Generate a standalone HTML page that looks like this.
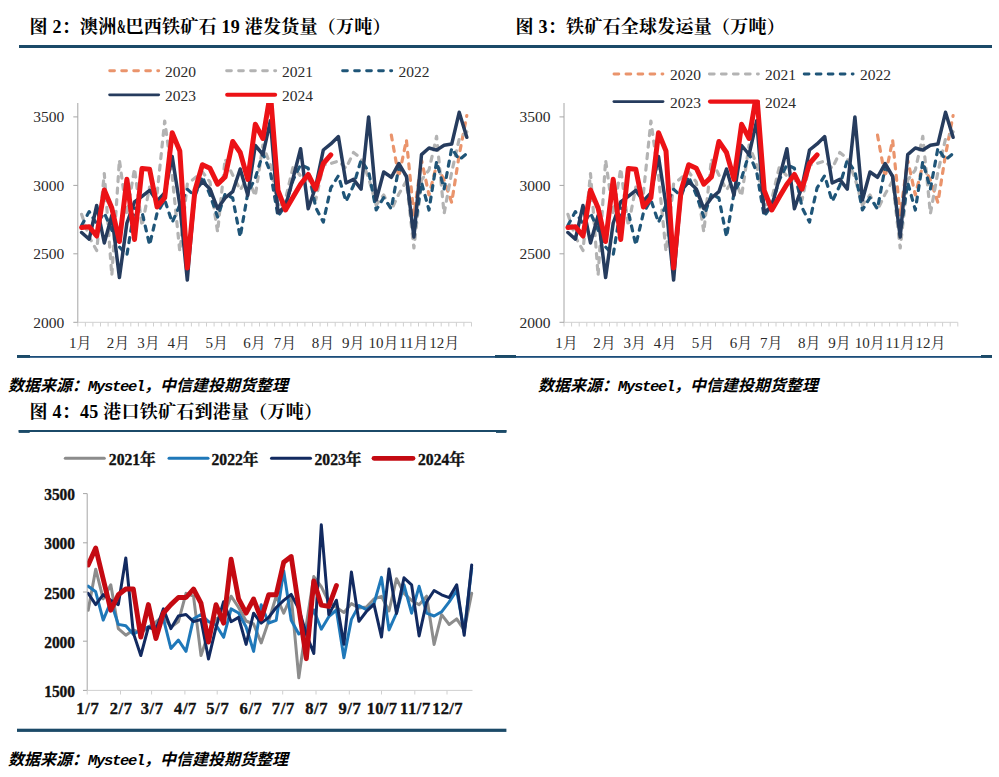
<!DOCTYPE html>
<html lang="zh-CN"><head><meta charset="utf-8"><title>铁矿石发运与到港量</title>
<style>
html,body{margin:0;padding:0;background:#fff;}
body{width:999px;height:777px;position:relative;overflow:hidden;}
svg{position:absolute;left:0;top:0;}
.t{position:absolute;white-space:nowrap;font-family:'Liberation Serif','Noto Serif CJK SC',serif;font-weight:bold;font-size:18px;letter-spacing:0.25px;color:#000;line-height:20px;}
.s{position:absolute;white-space:nowrap;font-family:'Liberation Sans','Noto Sans CJK SC',sans-serif;font-weight:bold;font-style:italic;font-size:16px;color:#000;line-height:20px;}
.s span{font-family:'Liberation Mono',monospace;font-weight:bold;font-style:italic;font-size:15.5px;letter-spacing:-1.3px;}
.amp{display:inline-block;transform:scaleX(.6);transform-origin:0 50%;width:9px;}
</style></head><body>
<div class="t" style="left:29.5px;top:17px">图 2：澳洲<span class="amp">&amp;</span>巴西铁矿石 19 港发货量（万吨）</div>
<div class="t" style="left:515.5px;top:17px">图 3：铁矿石全球发运量（万吨）</div>
<div class="t" style="left:29.5px;top:402px">图 4：45 港口铁矿石到港量（万吨）</div>
<div class="s" style="left:8px;top:376px">数据来源：<span>Mysteel</span>，中信建投期货整理</div>
<div class="s" style="left:538px;top:376px">数据来源：<span>Mysteel</span>，中信建投期货整理</div>
<div class="s" style="left:8px;top:750px">数据来源：<span>Mysteel</span>，中信建投期货整理</div>
<svg width="999" height="777" viewBox="0 0 999 777">
<rect x="19" y="45" width="973" height="3" fill="#1B4A68"/>
<rect x="17" y="356" width="975" height="1.8" fill="#1C4E7A"/>
<rect x="17" y="355" width="13" height="2.8" fill="#1B4A68"/>
<rect x="495" y="355" width="21" height="2.8" fill="#1B4A68"/>
<rect x="981" y="355" width="11" height="2.8" fill="#1B4A68"/>
<rect x="18.7" y="430" width="487.7" height="2" fill="#1B4A68"/>
<rect x="18.7" y="430" width="11" height="2.9" fill="#1B4A68"/>
<rect x="496" y="430" width="10.4" height="2.9" fill="#1B4A68"/>
<rect x="17" y="728.7" width="489.4" height="3.2" fill="#1B4A68"/>
<line x1="77.8" y1="103" x2="77.8" y2="322.3" stroke="#A6A6A6" stroke-width="1"/>
<line x1="77.8" y1="322.3" x2="471.5" y2="322.3" stroke="#D0D0D0" stroke-width="1"/>
<line x1="77.8" y1="322.3" x2="77.8" y2="326.5" stroke="#D0D0D0" stroke-width="1"/>
<line x1="85.4" y1="322.3" x2="85.4" y2="326.5" stroke="#D0D0D0" stroke-width="1"/>
<line x1="92.9" y1="322.3" x2="92.9" y2="326.5" stroke="#D0D0D0" stroke-width="1"/>
<line x1="100.5" y1="322.3" x2="100.5" y2="326.5" stroke="#D0D0D0" stroke-width="1"/>
<line x1="108.1" y1="322.3" x2="108.1" y2="326.5" stroke="#D0D0D0" stroke-width="1"/>
<line x1="115.7" y1="322.3" x2="115.7" y2="326.5" stroke="#D0D0D0" stroke-width="1"/>
<line x1="123.2" y1="322.3" x2="123.2" y2="326.5" stroke="#D0D0D0" stroke-width="1"/>
<line x1="130.8" y1="322.3" x2="130.8" y2="326.5" stroke="#D0D0D0" stroke-width="1"/>
<line x1="138.4" y1="322.3" x2="138.4" y2="326.5" stroke="#D0D0D0" stroke-width="1"/>
<line x1="145.9" y1="322.3" x2="145.9" y2="326.5" stroke="#D0D0D0" stroke-width="1"/>
<line x1="153.5" y1="322.3" x2="153.5" y2="326.5" stroke="#D0D0D0" stroke-width="1"/>
<line x1="161.1" y1="322.3" x2="161.1" y2="326.5" stroke="#D0D0D0" stroke-width="1"/>
<line x1="168.7" y1="322.3" x2="168.7" y2="326.5" stroke="#D0D0D0" stroke-width="1"/>
<line x1="176.2" y1="322.3" x2="176.2" y2="326.5" stroke="#D0D0D0" stroke-width="1"/>
<line x1="183.8" y1="322.3" x2="183.8" y2="326.5" stroke="#D0D0D0" stroke-width="1"/>
<line x1="191.4" y1="322.3" x2="191.4" y2="326.5" stroke="#D0D0D0" stroke-width="1"/>
<line x1="198.9" y1="322.3" x2="198.9" y2="326.5" stroke="#D0D0D0" stroke-width="1"/>
<line x1="206.5" y1="322.3" x2="206.5" y2="326.5" stroke="#D0D0D0" stroke-width="1"/>
<line x1="214.1" y1="322.3" x2="214.1" y2="326.5" stroke="#D0D0D0" stroke-width="1"/>
<line x1="221.7" y1="322.3" x2="221.7" y2="326.5" stroke="#D0D0D0" stroke-width="1"/>
<line x1="229.2" y1="322.3" x2="229.2" y2="326.5" stroke="#D0D0D0" stroke-width="1"/>
<line x1="236.8" y1="322.3" x2="236.8" y2="326.5" stroke="#D0D0D0" stroke-width="1"/>
<line x1="244.4" y1="322.3" x2="244.4" y2="326.5" stroke="#D0D0D0" stroke-width="1"/>
<line x1="251.9" y1="322.3" x2="251.9" y2="326.5" stroke="#D0D0D0" stroke-width="1"/>
<line x1="259.5" y1="322.3" x2="259.5" y2="326.5" stroke="#D0D0D0" stroke-width="1"/>
<line x1="267.1" y1="322.3" x2="267.1" y2="326.5" stroke="#D0D0D0" stroke-width="1"/>
<line x1="274.6" y1="322.3" x2="274.6" y2="326.5" stroke="#D0D0D0" stroke-width="1"/>
<line x1="282.2" y1="322.3" x2="282.2" y2="326.5" stroke="#D0D0D0" stroke-width="1"/>
<line x1="289.8" y1="322.3" x2="289.8" y2="326.5" stroke="#D0D0D0" stroke-width="1"/>
<line x1="297.4" y1="322.3" x2="297.4" y2="326.5" stroke="#D0D0D0" stroke-width="1"/>
<line x1="304.9" y1="322.3" x2="304.9" y2="326.5" stroke="#D0D0D0" stroke-width="1"/>
<line x1="312.5" y1="322.3" x2="312.5" y2="326.5" stroke="#D0D0D0" stroke-width="1"/>
<line x1="320.1" y1="322.3" x2="320.1" y2="326.5" stroke="#D0D0D0" stroke-width="1"/>
<line x1="327.6" y1="322.3" x2="327.6" y2="326.5" stroke="#D0D0D0" stroke-width="1"/>
<line x1="335.2" y1="322.3" x2="335.2" y2="326.5" stroke="#D0D0D0" stroke-width="1"/>
<line x1="342.8" y1="322.3" x2="342.8" y2="326.5" stroke="#D0D0D0" stroke-width="1"/>
<line x1="350.4" y1="322.3" x2="350.4" y2="326.5" stroke="#D0D0D0" stroke-width="1"/>
<line x1="357.9" y1="322.3" x2="357.9" y2="326.5" stroke="#D0D0D0" stroke-width="1"/>
<line x1="365.5" y1="322.3" x2="365.5" y2="326.5" stroke="#D0D0D0" stroke-width="1"/>
<line x1="373.1" y1="322.3" x2="373.1" y2="326.5" stroke="#D0D0D0" stroke-width="1"/>
<line x1="380.6" y1="322.3" x2="380.6" y2="326.5" stroke="#D0D0D0" stroke-width="1"/>
<line x1="388.2" y1="322.3" x2="388.2" y2="326.5" stroke="#D0D0D0" stroke-width="1"/>
<line x1="395.8" y1="322.3" x2="395.8" y2="326.5" stroke="#D0D0D0" stroke-width="1"/>
<line x1="403.4" y1="322.3" x2="403.4" y2="326.5" stroke="#D0D0D0" stroke-width="1"/>
<line x1="410.9" y1="322.3" x2="410.9" y2="326.5" stroke="#D0D0D0" stroke-width="1"/>
<line x1="418.5" y1="322.3" x2="418.5" y2="326.5" stroke="#D0D0D0" stroke-width="1"/>
<line x1="426.1" y1="322.3" x2="426.1" y2="326.5" stroke="#D0D0D0" stroke-width="1"/>
<line x1="433.6" y1="322.3" x2="433.6" y2="326.5" stroke="#D0D0D0" stroke-width="1"/>
<line x1="441.2" y1="322.3" x2="441.2" y2="326.5" stroke="#D0D0D0" stroke-width="1"/>
<line x1="448.8" y1="322.3" x2="448.8" y2="326.5" stroke="#D0D0D0" stroke-width="1"/>
<line x1="456.4" y1="322.3" x2="456.4" y2="326.5" stroke="#D0D0D0" stroke-width="1"/>
<line x1="463.9" y1="322.3" x2="463.9" y2="326.5" stroke="#D0D0D0" stroke-width="1"/>
<line x1="471.5" y1="322.3" x2="471.5" y2="326.5" stroke="#D0D0D0" stroke-width="1"/>
<line x1="73.3" y1="116.9" x2="77.8" y2="116.9" stroke="#A6A6A6" stroke-width="1"/>
<text x="64.2" y="122.4" text-anchor="end" font-family="'Liberation Serif','Noto Serif CJK SC',serif" font-size="15.5" fill="#2b2b2b">3500</text>
<line x1="73.3" y1="185.4" x2="77.8" y2="185.4" stroke="#A6A6A6" stroke-width="1"/>
<text x="64.2" y="190.9" text-anchor="end" font-family="'Liberation Serif','Noto Serif CJK SC',serif" font-size="15.5" fill="#2b2b2b">3000</text>
<line x1="73.3" y1="253.8" x2="77.8" y2="253.8" stroke="#A6A6A6" stroke-width="1"/>
<text x="64.2" y="259.3" text-anchor="end" font-family="'Liberation Serif','Noto Serif CJK SC',serif" font-size="15.5" fill="#2b2b2b">2500</text>
<line x1="73.3" y1="322.3" x2="77.8" y2="322.3" stroke="#A6A6A6" stroke-width="1"/>
<text x="64.2" y="327.8" text-anchor="end" font-family="'Liberation Serif','Noto Serif CJK SC',serif" font-size="15.5" fill="#2b2b2b">2000</text>
<text x="80.2" y="347.5" text-anchor="middle" font-family="'Liberation Serif','Noto Serif CJK SC',serif" font-size="15" fill="#2b2b2b">1月</text>
<text x="118.1" y="347.5" text-anchor="middle" font-family="'Liberation Serif','Noto Serif CJK SC',serif" font-size="15" fill="#2b2b2b">2月</text>
<text x="148.5" y="347.5" text-anchor="middle" font-family="'Liberation Serif','Noto Serif CJK SC',serif" font-size="15" fill="#2b2b2b">3月</text>
<text x="178.8" y="347.5" text-anchor="middle" font-family="'Liberation Serif','Noto Serif CJK SC',serif" font-size="15" fill="#2b2b2b">4月</text>
<text x="216.7" y="347.5" text-anchor="middle" font-family="'Liberation Serif','Noto Serif CJK SC',serif" font-size="15" fill="#2b2b2b">5月</text>
<text x="254.6" y="347.5" text-anchor="middle" font-family="'Liberation Serif','Noto Serif CJK SC',serif" font-size="15" fill="#2b2b2b">6月</text>
<text x="285.0" y="347.5" text-anchor="middle" font-family="'Liberation Serif','Noto Serif CJK SC',serif" font-size="15" fill="#2b2b2b">7月</text>
<text x="322.9" y="347.5" text-anchor="middle" font-family="'Liberation Serif','Noto Serif CJK SC',serif" font-size="15" fill="#2b2b2b">8月</text>
<text x="353.3" y="347.5" text-anchor="middle" font-family="'Liberation Serif','Noto Serif CJK SC',serif" font-size="15" fill="#2b2b2b">9月</text>
<text x="383.6" y="347.5" text-anchor="middle" font-family="'Liberation Serif','Noto Serif CJK SC',serif" font-size="15" fill="#2b2b2b">10月</text>
<text x="413.9" y="347.5" text-anchor="middle" font-family="'Liberation Serif','Noto Serif CJK SC',serif" font-size="15" fill="#2b2b2b">11月</text>
<text x="444.3" y="347.5" text-anchor="middle" font-family="'Liberation Serif','Noto Serif CJK SC',serif" font-size="15" fill="#2b2b2b">12月</text>
<clipPath id="c2"><rect x="67.8" y="103" width="420" height="240"/></clipPath>
<g clip-path="url(#c2)" fill="none" stroke-linejoin="round" stroke-linecap="round">
<polyline points="391.3,135.0 398.8,177.0 406.4,140.0 413.9,215.0 421.5,160.0 429.0,195.0 436.6,165.0 444.1,180.0 451.7,202.5 459.2,155.0 466.8,115.5" stroke="#EA946C" stroke-width="3.2" stroke-dasharray="5 6.6"/>
<polyline points="81.6,214.3 89.2,237.0 96.7,250.5 104.3,173.5 111.8,275.5 119.4,160.0 126.9,215.0 134.5,168.6 142.0,226.0 149.6,187.0 157.1,193.5 164.7,121.0 172.2,176.0 179.8,251.5 187.3,184.0 194.9,178.0 202.4,172.0 210.0,182.0 217.6,232.0 225.1,159.0 232.7,175.0 240.2,190.0 247.8,178.0 255.3,196.0 262.9,145.0 270.4,165.0 278.0,207.0 285.5,199.0 293.1,167.0 300.6,176.0 308.2,178.0 315.7,200.0 323.3,165.0 330.8,163.5 338.4,161.0 346.0,168.3 353.5,152.5 361.1,158.6 368.6,178.0 376.2,205.0 383.7,195.0 391.3,210.0 398.8,194.0 406.4,181.0 413.9,248.0 421.5,180.0 429.0,170.0 436.6,136.3 444.1,213.7 451.7,172.0 459.2,139.0 466.8,131.8" stroke="#B3B3B3" stroke-width="3.2" stroke-dasharray="5 6.6"/>
<polyline points="81.6,225.5 89.2,211.6 96.7,224.0 104.3,213.0 111.8,230.0 119.4,247.0 126.9,255.0 134.5,208.0 142.0,212.0 149.6,245.0 157.1,213.0 164.7,200.0 172.2,222.5 179.8,205.0 187.3,189.3 194.9,196.0 202.4,176.5 210.0,195.0 217.6,217.0 225.1,194.0 232.7,198.0 240.2,237.0 247.8,193.0 255.3,178.0 262.9,153.7 270.4,172.0 278.0,216.5 285.5,205.0 293.1,180.0 300.6,164.7 308.2,168.3 315.7,207.5 323.3,222.1 330.8,187.9 338.4,175.7 346.0,201.4 353.5,185.5 361.1,160.0 368.6,171.5 376.2,209.9 383.7,197.7 391.3,208.7 398.8,167.5 406.4,176.0 413.9,235.0 421.5,182.5 429.0,210.0 436.6,161.5 444.1,189.0 451.7,148.2 459.2,159.7 466.8,153.6" stroke="#1F5578" stroke-width="3.2" stroke-dasharray="5 6.6"/>
<polyline points="81.6,232.5 89.2,239.2 96.7,205.5 104.3,243.0 111.8,215.5 119.4,277.6 126.9,223.0 134.5,202.0 142.0,196.3 149.6,190.3 157.1,201.0 164.7,193.0 172.2,156.5 179.8,205.0 187.3,280.0 194.9,191.0 202.4,181.6 210.0,189.0 217.6,208.6 225.1,198.0 232.7,191.7 240.2,169.0 247.8,195.2 255.3,145.5 262.9,154.5 270.4,120.7 278.0,212.4 285.5,206.5 293.1,178.1 300.6,148.8 308.2,208.7 315.7,186.7 323.3,150.0 330.8,143.9 338.4,136.6 346.0,183.0 353.5,179.4 361.1,189.1 368.6,117.0 376.2,200.1 383.7,172.0 391.3,177.3 398.8,163.5 406.4,176.3 413.9,237.0 421.5,154.6 429.0,148.0 436.6,150.1 444.1,145.3 451.7,144.1 459.2,112.3 466.8,137.3" stroke="#263C5E" stroke-width="3.5"/>
<polyline points="81.6,227.5 89.2,226.7 96.7,236.0 104.3,190.0 111.8,208.0 119.4,241.5 126.9,179.3 134.5,239.4 142.0,168.4 149.6,169.2 157.1,207.0 164.7,197.7 172.2,132.8 179.8,151.0 187.3,268.0 194.9,190.4 202.4,164.7 210.0,168.3 217.6,184.2 225.1,176.9 232.7,141.5 240.2,152.5 247.8,179.4 255.3,124.3 262.9,138.5 270.4,93.0 278.0,190.4 285.5,210.0 293.1,197.0 300.6,184.2 308.2,174.5 315.7,189.1 323.3,163.5 330.8,154.9" stroke="#EC1216" stroke-width="5"/>
</g>
<line x1="109.7" y1="70.8" x2="158.7" y2="70.8" stroke="#EA946C" stroke-width="2.9" stroke-linecap="round" stroke-dasharray="4.8 7.2"/>
<text x="165" y="76.8" font-family="'Liberation Serif','Noto Serif CJK SC',serif" font-size="15.5" fill="#2b2b2b">2020</text>
<line x1="226.6" y1="70.8" x2="275.7" y2="70.8" stroke="#B3B3B3" stroke-width="2.9" stroke-linecap="round" stroke-dasharray="4.8 7.2"/>
<text x="282" y="76.8" font-family="'Liberation Serif','Noto Serif CJK SC',serif" font-size="15.5" fill="#2b2b2b">2021</text>
<line x1="342.6" y1="70.8" x2="391.7" y2="70.8" stroke="#1F5578" stroke-width="2.9" stroke-linecap="round" stroke-dasharray="4.8 7.2"/>
<text x="398.5" y="76.8" font-family="'Liberation Serif','Noto Serif CJK SC',serif" font-size="15.5" fill="#2b2b2b">2022</text>
<line x1="109.6" y1="94.8" x2="158.7" y2="94.8" stroke="#263C5E" stroke-width="2.8" stroke-linecap="round"/>
<text x="165" y="100.8" font-family="'Liberation Serif','Noto Serif CJK SC',serif" font-size="15.5" fill="#2b2b2b">2023</text>
<line x1="227.2" y1="94.8" x2="275.1" y2="94.8" stroke="#EC1216" stroke-width="4.1" stroke-linecap="round"/>
<text x="282" y="100.8" font-family="'Liberation Serif','Noto Serif CJK SC',serif" font-size="15.5" fill="#2b2b2b">2024</text>
<line x1="564.0" y1="103" x2="564.0" y2="322.3" stroke="#A6A6A6" stroke-width="1"/>
<line x1="564.0" y1="322.3" x2="957.8" y2="322.3" stroke="#D0D0D0" stroke-width="1"/>
<line x1="564.0" y1="322.3" x2="564.0" y2="326.5" stroke="#D0D0D0" stroke-width="1"/>
<line x1="571.6" y1="322.3" x2="571.6" y2="326.5" stroke="#D0D0D0" stroke-width="1"/>
<line x1="579.2" y1="322.3" x2="579.2" y2="326.5" stroke="#D0D0D0" stroke-width="1"/>
<line x1="586.8" y1="322.3" x2="586.8" y2="326.5" stroke="#D0D0D0" stroke-width="1"/>
<line x1="594.3" y1="322.3" x2="594.3" y2="326.5" stroke="#D0D0D0" stroke-width="1"/>
<line x1="601.9" y1="322.3" x2="601.9" y2="326.5" stroke="#D0D0D0" stroke-width="1"/>
<line x1="609.5" y1="322.3" x2="609.5" y2="326.5" stroke="#D0D0D0" stroke-width="1"/>
<line x1="617.0" y1="322.3" x2="617.0" y2="326.5" stroke="#D0D0D0" stroke-width="1"/>
<line x1="624.6" y1="322.3" x2="624.6" y2="326.5" stroke="#D0D0D0" stroke-width="1"/>
<line x1="632.2" y1="322.3" x2="632.2" y2="326.5" stroke="#D0D0D0" stroke-width="1"/>
<line x1="639.8" y1="322.3" x2="639.8" y2="326.5" stroke="#D0D0D0" stroke-width="1"/>
<line x1="647.3" y1="322.3" x2="647.3" y2="326.5" stroke="#D0D0D0" stroke-width="1"/>
<line x1="654.9" y1="322.3" x2="654.9" y2="326.5" stroke="#D0D0D0" stroke-width="1"/>
<line x1="662.5" y1="322.3" x2="662.5" y2="326.5" stroke="#D0D0D0" stroke-width="1"/>
<line x1="670.0" y1="322.3" x2="670.0" y2="326.5" stroke="#D0D0D0" stroke-width="1"/>
<line x1="677.6" y1="322.3" x2="677.6" y2="326.5" stroke="#D0D0D0" stroke-width="1"/>
<line x1="685.2" y1="322.3" x2="685.2" y2="326.5" stroke="#D0D0D0" stroke-width="1"/>
<line x1="692.8" y1="322.3" x2="692.8" y2="326.5" stroke="#D0D0D0" stroke-width="1"/>
<line x1="700.3" y1="322.3" x2="700.3" y2="326.5" stroke="#D0D0D0" stroke-width="1"/>
<line x1="707.9" y1="322.3" x2="707.9" y2="326.5" stroke="#D0D0D0" stroke-width="1"/>
<line x1="715.5" y1="322.3" x2="715.5" y2="326.5" stroke="#D0D0D0" stroke-width="1"/>
<line x1="723.0" y1="322.3" x2="723.0" y2="326.5" stroke="#D0D0D0" stroke-width="1"/>
<line x1="730.6" y1="322.3" x2="730.6" y2="326.5" stroke="#D0D0D0" stroke-width="1"/>
<line x1="738.2" y1="322.3" x2="738.2" y2="326.5" stroke="#D0D0D0" stroke-width="1"/>
<line x1="745.8" y1="322.3" x2="745.8" y2="326.5" stroke="#D0D0D0" stroke-width="1"/>
<line x1="753.3" y1="322.3" x2="753.3" y2="326.5" stroke="#D0D0D0" stroke-width="1"/>
<line x1="760.9" y1="322.3" x2="760.9" y2="326.5" stroke="#D0D0D0" stroke-width="1"/>
<line x1="768.5" y1="322.3" x2="768.5" y2="326.5" stroke="#D0D0D0" stroke-width="1"/>
<line x1="776.0" y1="322.3" x2="776.0" y2="326.5" stroke="#D0D0D0" stroke-width="1"/>
<line x1="783.6" y1="322.3" x2="783.6" y2="326.5" stroke="#D0D0D0" stroke-width="1"/>
<line x1="791.2" y1="322.3" x2="791.2" y2="326.5" stroke="#D0D0D0" stroke-width="1"/>
<line x1="798.8" y1="322.3" x2="798.8" y2="326.5" stroke="#D0D0D0" stroke-width="1"/>
<line x1="806.3" y1="322.3" x2="806.3" y2="326.5" stroke="#D0D0D0" stroke-width="1"/>
<line x1="813.9" y1="322.3" x2="813.9" y2="326.5" stroke="#D0D0D0" stroke-width="1"/>
<line x1="821.5" y1="322.3" x2="821.5" y2="326.5" stroke="#D0D0D0" stroke-width="1"/>
<line x1="829.0" y1="322.3" x2="829.0" y2="326.5" stroke="#D0D0D0" stroke-width="1"/>
<line x1="836.6" y1="322.3" x2="836.6" y2="326.5" stroke="#D0D0D0" stroke-width="1"/>
<line x1="844.2" y1="322.3" x2="844.2" y2="326.5" stroke="#D0D0D0" stroke-width="1"/>
<line x1="851.8" y1="322.3" x2="851.8" y2="326.5" stroke="#D0D0D0" stroke-width="1"/>
<line x1="859.3" y1="322.3" x2="859.3" y2="326.5" stroke="#D0D0D0" stroke-width="1"/>
<line x1="866.9" y1="322.3" x2="866.9" y2="326.5" stroke="#D0D0D0" stroke-width="1"/>
<line x1="874.5" y1="322.3" x2="874.5" y2="326.5" stroke="#D0D0D0" stroke-width="1"/>
<line x1="882.0" y1="322.3" x2="882.0" y2="326.5" stroke="#D0D0D0" stroke-width="1"/>
<line x1="889.6" y1="322.3" x2="889.6" y2="326.5" stroke="#D0D0D0" stroke-width="1"/>
<line x1="897.2" y1="322.3" x2="897.2" y2="326.5" stroke="#D0D0D0" stroke-width="1"/>
<line x1="904.8" y1="322.3" x2="904.8" y2="326.5" stroke="#D0D0D0" stroke-width="1"/>
<line x1="912.3" y1="322.3" x2="912.3" y2="326.5" stroke="#D0D0D0" stroke-width="1"/>
<line x1="919.9" y1="322.3" x2="919.9" y2="326.5" stroke="#D0D0D0" stroke-width="1"/>
<line x1="927.5" y1="322.3" x2="927.5" y2="326.5" stroke="#D0D0D0" stroke-width="1"/>
<line x1="935.0" y1="322.3" x2="935.0" y2="326.5" stroke="#D0D0D0" stroke-width="1"/>
<line x1="942.6" y1="322.3" x2="942.6" y2="326.5" stroke="#D0D0D0" stroke-width="1"/>
<line x1="950.2" y1="322.3" x2="950.2" y2="326.5" stroke="#D0D0D0" stroke-width="1"/>
<line x1="957.8" y1="322.3" x2="957.8" y2="326.5" stroke="#D0D0D0" stroke-width="1"/>
<line x1="559.5" y1="116.9" x2="564.0" y2="116.9" stroke="#A6A6A6" stroke-width="1"/>
<text x="550.5" y="122.4" text-anchor="end" font-family="'Liberation Serif','Noto Serif CJK SC',serif" font-size="15.5" fill="#2b2b2b">3500</text>
<line x1="559.5" y1="185.4" x2="564.0" y2="185.4" stroke="#A6A6A6" stroke-width="1"/>
<text x="550.5" y="190.9" text-anchor="end" font-family="'Liberation Serif','Noto Serif CJK SC',serif" font-size="15.5" fill="#2b2b2b">3000</text>
<line x1="559.5" y1="253.8" x2="564.0" y2="253.8" stroke="#A6A6A6" stroke-width="1"/>
<text x="550.5" y="259.3" text-anchor="end" font-family="'Liberation Serif','Noto Serif CJK SC',serif" font-size="15.5" fill="#2b2b2b">2500</text>
<line x1="559.5" y1="322.3" x2="564.0" y2="322.3" stroke="#A6A6A6" stroke-width="1"/>
<text x="550.5" y="327.8" text-anchor="end" font-family="'Liberation Serif','Noto Serif CJK SC',serif" font-size="15.5" fill="#2b2b2b">2000</text>
<text x="566.4" y="347.5" text-anchor="middle" font-family="'Liberation Serif','Noto Serif CJK SC',serif" font-size="15" fill="#2b2b2b">1月</text>
<text x="604.4" y="347.5" text-anchor="middle" font-family="'Liberation Serif','Noto Serif CJK SC',serif" font-size="15" fill="#2b2b2b">2月</text>
<text x="634.7" y="347.5" text-anchor="middle" font-family="'Liberation Serif','Noto Serif CJK SC',serif" font-size="15" fill="#2b2b2b">3月</text>
<text x="665.0" y="347.5" text-anchor="middle" font-family="'Liberation Serif','Noto Serif CJK SC',serif" font-size="15" fill="#2b2b2b">4月</text>
<text x="703.0" y="347.5" text-anchor="middle" font-family="'Liberation Serif','Noto Serif CJK SC',serif" font-size="15" fill="#2b2b2b">5月</text>
<text x="740.9" y="347.5" text-anchor="middle" font-family="'Liberation Serif','Noto Serif CJK SC',serif" font-size="15" fill="#2b2b2b">6月</text>
<text x="771.2" y="347.5" text-anchor="middle" font-family="'Liberation Serif','Noto Serif CJK SC',serif" font-size="15" fill="#2b2b2b">7月</text>
<text x="809.2" y="347.5" text-anchor="middle" font-family="'Liberation Serif','Noto Serif CJK SC',serif" font-size="15" fill="#2b2b2b">8月</text>
<text x="839.5" y="347.5" text-anchor="middle" font-family="'Liberation Serif','Noto Serif CJK SC',serif" font-size="15" fill="#2b2b2b">9月</text>
<text x="869.8" y="347.5" text-anchor="middle" font-family="'Liberation Serif','Noto Serif CJK SC',serif" font-size="15" fill="#2b2b2b">10月</text>
<text x="900.2" y="347.5" text-anchor="middle" font-family="'Liberation Serif','Noto Serif CJK SC',serif" font-size="15" fill="#2b2b2b">11月</text>
<text x="930.5" y="347.5" text-anchor="middle" font-family="'Liberation Serif','Noto Serif CJK SC',serif" font-size="15" fill="#2b2b2b">12月</text>
<clipPath id="c3"><rect x="554.0" y="100.5" width="420" height="240"/></clipPath>
<g clip-path="url(#c3)" fill="none" stroke-linejoin="round" stroke-linecap="round">
<polyline points="877.5,135.0 885.1,177.0 892.6,140.0 900.2,215.0 907.7,160.0 915.3,195.0 922.8,165.0 930.4,180.0 937.9,202.5 945.5,155.0 953.1,115.5" stroke="#EA946C" stroke-width="3.2" stroke-dasharray="5 6.6"/>
<polyline points="567.9,214.3 575.4,237.0 583.0,250.5 590.5,173.5 598.1,275.5 605.6,160.0 613.2,215.0 620.7,168.6 628.3,226.0 635.8,187.0 643.4,193.5 650.9,121.0 658.5,176.0 666.0,251.5 673.6,184.0 681.1,178.0 688.7,172.0 696.3,182.0 703.8,232.0 711.4,159.0 718.9,175.0 726.5,190.0 734.0,178.0 741.6,196.0 749.1,145.0 756.7,165.0 764.2,207.0 771.8,199.0 779.3,167.0 786.9,176.0 794.4,178.0 802.0,200.0 809.5,165.0 817.1,163.5 824.7,161.0 832.2,168.3 839.8,152.5 847.3,158.6 854.9,178.0 862.4,205.0 870.0,195.0 877.5,210.0 885.1,194.0 892.6,181.0 900.2,248.0 907.7,180.0 915.3,170.0 922.8,136.3 930.4,213.7 937.9,172.0 945.5,139.0 953.1,131.8" stroke="#B3B3B3" stroke-width="3.2" stroke-dasharray="5 6.6"/>
<polyline points="567.9,225.5 575.4,211.6 583.0,224.0 590.5,213.0 598.1,230.0 605.6,247.0 613.2,255.0 620.7,208.0 628.3,212.0 635.8,245.0 643.4,213.0 650.9,200.0 658.5,222.5 666.0,205.0 673.6,189.3 681.1,196.0 688.7,176.5 696.3,195.0 703.8,217.0 711.4,194.0 718.9,198.0 726.5,237.0 734.0,193.0 741.6,178.0 749.1,153.7 756.7,172.0 764.2,216.5 771.8,205.0 779.3,180.0 786.9,164.7 794.4,168.3 802.0,207.5 809.5,222.1 817.1,187.9 824.7,175.7 832.2,201.4 839.8,185.5 847.3,160.0 854.9,171.5 862.4,209.9 870.0,197.7 877.5,208.7 885.1,167.5 892.6,176.0 900.2,235.0 907.7,182.5 915.3,210.0 922.8,161.5 930.4,189.0 937.9,148.2 945.5,159.7 953.1,153.6" stroke="#1F5578" stroke-width="3.2" stroke-dasharray="5 6.6"/>
<polyline points="567.9,232.5 575.4,239.2 583.0,205.5 590.5,243.0 598.1,215.5 605.6,277.6 613.2,223.0 620.7,202.0 628.3,196.3 635.8,190.3 643.4,201.0 650.9,193.0 658.5,156.5 666.0,205.0 673.6,280.0 681.1,191.0 688.7,181.6 696.3,189.0 703.8,208.6 711.4,198.0 718.9,191.7 726.5,169.0 734.0,195.2 741.6,145.5 749.1,154.5 756.7,120.7 764.2,212.4 771.8,206.5 779.3,178.1 786.9,148.8 794.4,208.7 802.0,186.7 809.5,150.0 817.1,143.9 824.7,136.6 832.2,183.0 839.8,179.4 847.3,189.1 854.9,117.0 862.4,200.1 870.0,172.0 877.5,177.3 885.1,163.5 892.6,176.3 900.2,237.0 907.7,154.6 915.3,148.0 922.8,150.1 930.4,145.3 937.9,144.1 945.5,112.3 953.1,137.3" stroke="#263C5E" stroke-width="3.5"/>
<polyline points="567.9,227.5 575.4,226.7 583.0,236.0 590.5,190.0 598.1,208.0 605.6,241.5 613.2,179.3 620.7,239.4 628.3,168.4 635.8,169.2 643.4,207.0 650.9,197.7 658.5,132.8 666.0,151.0 673.6,268.0 681.1,190.4 688.7,164.7 696.3,168.3 703.8,184.2 711.4,176.9 718.9,141.5 726.5,152.5 734.0,179.4 741.6,124.3 749.1,138.5 756.7,93.0 764.2,190.4 771.8,210.0 779.3,197.0 786.9,184.2 794.4,174.5 802.0,189.1 809.5,163.5 817.1,154.9" stroke="#EC1216" stroke-width="5"/>
</g>
<line x1="614.0" y1="74" x2="662.9" y2="74" stroke="#EA946C" stroke-width="2.9" stroke-linecap="round" stroke-dasharray="4.8 7.2"/>
<text x="670" y="80.0" font-family="'Liberation Serif','Noto Serif CJK SC',serif" font-size="15.5" fill="#2b2b2b">2020</text>
<line x1="709.4" y1="74" x2="758.4" y2="74" stroke="#B3B3B3" stroke-width="2.9" stroke-linecap="round" stroke-dasharray="4.8 7.2"/>
<text x="765" y="80.0" font-family="'Liberation Serif','Noto Serif CJK SC',serif" font-size="15.5" fill="#2b2b2b">2021</text>
<line x1="804.2" y1="74" x2="853.1" y2="74" stroke="#1F5578" stroke-width="2.9" stroke-linecap="round" stroke-dasharray="4.8 7.2"/>
<text x="860" y="80.0" font-family="'Liberation Serif','Noto Serif CJK SC',serif" font-size="15.5" fill="#2b2b2b">2022</text>
<line x1="613.9" y1="101.6" x2="663.0" y2="101.6" stroke="#263C5E" stroke-width="2.8" stroke-linecap="round"/>
<text x="670" y="107.6" font-family="'Liberation Serif','Noto Serif CJK SC',serif" font-size="15.5" fill="#2b2b2b">2023</text>
<line x1="710.0" y1="101.6" x2="757.8" y2="101.6" stroke="#EC1216" stroke-width="4.1" stroke-linecap="round"/>
<text x="765" y="107.6" font-family="'Liberation Serif','Noto Serif CJK SC',serif" font-size="15.5" fill="#2b2b2b">2024</text>
<line x1="87.2" y1="493.6" x2="87.2" y2="690.4" stroke="#A6A6A6" stroke-width="1"/>
<line x1="87.2" y1="690.4" x2="472.5" y2="690.4" stroke="#D0D0D0" stroke-width="1"/>
<line x1="83" y1="493.6" x2="87.2" y2="493.6" stroke="#A6A6A6" stroke-width="1"/>
<text x="75" y="500.2" text-anchor="end" font-family="'Liberation Serif','Noto Serif CJK SC',serif" font-weight="bold" font-size="16.5" textLength="30.8" lengthAdjust="spacingAndGlyphs" fill="#111" stroke="#111" stroke-width="0.35">3500</text>
<line x1="83" y1="542.8" x2="87.2" y2="542.8" stroke="#A6A6A6" stroke-width="1"/>
<text x="75" y="549.4" text-anchor="end" font-family="'Liberation Serif','Noto Serif CJK SC',serif" font-weight="bold" font-size="16.5" textLength="30.8" lengthAdjust="spacingAndGlyphs" fill="#111" stroke="#111" stroke-width="0.35">3000</text>
<line x1="83" y1="592" x2="87.2" y2="592" stroke="#A6A6A6" stroke-width="1"/>
<text x="75" y="598.6" text-anchor="end" font-family="'Liberation Serif','Noto Serif CJK SC',serif" font-weight="bold" font-size="16.5" textLength="30.8" lengthAdjust="spacingAndGlyphs" fill="#111" stroke="#111" stroke-width="0.35">2500</text>
<line x1="83" y1="641.2" x2="87.2" y2="641.2" stroke="#A6A6A6" stroke-width="1"/>
<text x="75" y="647.8" text-anchor="end" font-family="'Liberation Serif','Noto Serif CJK SC',serif" font-weight="bold" font-size="16.5" textLength="30.8" lengthAdjust="spacingAndGlyphs" fill="#111" stroke="#111" stroke-width="0.35">2000</text>
<line x1="83" y1="690.4" x2="87.2" y2="690.4" stroke="#A6A6A6" stroke-width="1"/>
<text x="75" y="697.0" text-anchor="end" font-family="'Liberation Serif','Noto Serif CJK SC',serif" font-weight="bold" font-size="16.5" textLength="30.8" lengthAdjust="spacingAndGlyphs" fill="#111" stroke="#111" stroke-width="0.35">1500</text>
<line x1="87.2" y1="690.4" x2="87.2" y2="694.5" stroke="#D0D0D0" stroke-width="1"/>
<text x="87.5" y="714" text-anchor="middle" font-family="'Liberation Serif','Noto Serif CJK SC',serif" font-weight="bold" font-size="16.5" textLength="22.3" lengthAdjust="spacing" fill="#111" stroke="#111" stroke-width="0.35">1/7</text>
<line x1="120.5" y1="690.4" x2="120.5" y2="694.5" stroke="#D0D0D0" stroke-width="1"/>
<text x="120.8" y="714" text-anchor="middle" font-family="'Liberation Serif','Noto Serif CJK SC',serif" font-weight="bold" font-size="16.5" textLength="22.3" lengthAdjust="spacing" fill="#111" stroke="#111" stroke-width="0.35">2/7</text>
<line x1="151.6" y1="690.4" x2="151.6" y2="694.5" stroke="#D0D0D0" stroke-width="1"/>
<text x="151.9" y="714" text-anchor="middle" font-family="'Liberation Serif','Noto Serif CJK SC',serif" font-weight="bold" font-size="16.5" textLength="22.3" lengthAdjust="spacing" fill="#111" stroke="#111" stroke-width="0.35">3/7</text>
<line x1="184.9" y1="690.4" x2="184.9" y2="694.5" stroke="#D0D0D0" stroke-width="1"/>
<text x="185.2" y="714" text-anchor="middle" font-family="'Liberation Serif','Noto Serif CJK SC',serif" font-weight="bold" font-size="16.5" textLength="22.3" lengthAdjust="spacing" fill="#111" stroke="#111" stroke-width="0.35">4/7</text>
<line x1="217.2" y1="690.4" x2="217.2" y2="694.5" stroke="#D0D0D0" stroke-width="1"/>
<text x="217.5" y="714" text-anchor="middle" font-family="'Liberation Serif','Noto Serif CJK SC',serif" font-weight="bold" font-size="16.5" textLength="22.3" lengthAdjust="spacing" fill="#111" stroke="#111" stroke-width="0.35">5/7</text>
<line x1="250.4" y1="690.4" x2="250.4" y2="694.5" stroke="#D0D0D0" stroke-width="1"/>
<text x="250.7" y="714" text-anchor="middle" font-family="'Liberation Serif','Noto Serif CJK SC',serif" font-weight="bold" font-size="16.5" textLength="22.3" lengthAdjust="spacing" fill="#111" stroke="#111" stroke-width="0.35">6/7</text>
<line x1="282.7" y1="690.4" x2="282.7" y2="694.5" stroke="#D0D0D0" stroke-width="1"/>
<text x="283.0" y="714" text-anchor="middle" font-family="'Liberation Serif','Noto Serif CJK SC',serif" font-weight="bold" font-size="16.5" textLength="22.3" lengthAdjust="spacing" fill="#111" stroke="#111" stroke-width="0.35">7/7</text>
<line x1="316.0" y1="690.4" x2="316.0" y2="694.5" stroke="#D0D0D0" stroke-width="1"/>
<text x="316.3" y="714" text-anchor="middle" font-family="'Liberation Serif','Noto Serif CJK SC',serif" font-weight="bold" font-size="16.5" textLength="22.3" lengthAdjust="spacing" fill="#111" stroke="#111" stroke-width="0.35">8/7</text>
<line x1="349.3" y1="690.4" x2="349.3" y2="694.5" stroke="#D0D0D0" stroke-width="1"/>
<text x="349.6" y="714" text-anchor="middle" font-family="'Liberation Serif','Noto Serif CJK SC',serif" font-weight="bold" font-size="16.5" textLength="22.3" lengthAdjust="spacing" fill="#111" stroke="#111" stroke-width="0.35">9/7</text>
<line x1="381.5" y1="690.4" x2="381.5" y2="694.5" stroke="#D0D0D0" stroke-width="1"/>
<text x="381.8" y="714" text-anchor="middle" font-family="'Liberation Serif','Noto Serif CJK SC',serif" font-weight="bold" font-size="16.5" textLength="30.2" lengthAdjust="spacing" fill="#111" stroke="#111" stroke-width="0.35">10/7</text>
<line x1="414.8" y1="690.4" x2="414.8" y2="694.5" stroke="#D0D0D0" stroke-width="1"/>
<text x="415.1" y="714" text-anchor="middle" font-family="'Liberation Serif','Noto Serif CJK SC',serif" font-weight="bold" font-size="16.5" textLength="30.2" lengthAdjust="spacing" fill="#111" stroke="#111" stroke-width="0.35">11/7</text>
<line x1="447.0" y1="690.4" x2="447.0" y2="694.5" stroke="#D0D0D0" stroke-width="1"/>
<text x="447.3" y="714" text-anchor="middle" font-family="'Liberation Serif','Noto Serif CJK SC',serif" font-weight="bold" font-size="16.5" textLength="30.2" lengthAdjust="spacing" fill="#111" stroke="#111" stroke-width="0.35">12/7</text>
<clipPath id="c4"><rect x="87.4" y="480" width="400" height="215"/></clipPath>
<g clip-path="url(#c4)" fill="none" stroke-linejoin="round" stroke-linecap="round">
<polyline points="88.2,610.2 95.7,569.2 103.2,598.9 110.8,584.8 118.3,628.6 125.8,635.2 133.3,630.0 140.8,633.0 148.4,627.0 155.9,622.0 163.4,616.0 170.9,627.2 178.4,621.6 186.0,593.3 193.5,596.1 201.0,655.6 208.5,633.0 216.0,619.0 223.6,616.0 231.1,596.2 238.6,607.5 246.1,621.0 253.6,624.0 261.2,642.9 268.7,621.0 276.2,596.2 283.7,613.2 291.2,596.0 298.8,677.8 306.3,625.0 313.8,576.6 321.3,586.6 328.8,602.2 336.4,607.6 343.9,612.5 351.4,603.6 358.9,608.0 366.4,607.0 374.0,599.0 381.5,596.4 389.0,611.0 396.5,578.7 404.0,593.3 411.6,600.4 419.1,604.7 426.6,596.2 434.1,644.4 441.6,614.6 449.2,624.5 456.7,618.9 464.2,630.2 471.7,593.3" stroke="#8C8C8C" stroke-width="3"/>
<polyline points="88.2,586.2 95.7,591.8 103.2,620.1 110.8,601.7 118.3,624.4 125.8,625.8 133.3,634.3 140.8,630.0 148.4,627.0 155.9,626.0 163.4,618.7 170.9,648.5 178.4,640.0 186.0,651.3 193.5,618.7 201.0,614.5 208.5,621.7 216.0,625.0 223.6,637.3 231.1,608.9 238.6,613.0 246.1,627.0 253.6,651.4 261.2,604.7 268.7,623.0 276.2,620.3 283.7,570.7 291.2,620.3 298.8,634.0 306.3,629.0 313.8,610.0 321.3,629.2 328.8,616.7 336.4,610.0 343.9,657.7 351.4,619.4 358.9,605.6 366.4,609.6 374.0,603.5 381.5,577.4 389.0,629.9 396.5,613.0 404.0,584.8 411.6,613.2 419.1,586.3 426.6,613.2 434.1,616.0 441.6,611.8 449.2,601.8 456.7,590.5 464.2,632.0 471.7,568.0" stroke="#1F78B9" stroke-width="3"/>
<polyline points="88.2,593.3 95.7,604.6 103.2,594.7 110.8,600.3 118.3,604.6 125.8,557.9 133.3,632.9 140.8,655.5 148.4,627.2 155.9,630.0 163.4,608.8 170.9,628.6 178.4,615.9 186.0,614.5 193.5,621.6 201.0,619.5 208.5,659.0 216.0,627.4 223.6,601.8 231.1,621.7 238.6,617.4 246.1,644.4 253.6,613.2 261.2,623.1 268.7,617.4 276.2,607.5 283.7,600.4 291.2,594.4 298.8,609.0 306.3,634.0 313.8,653.5 321.3,524.8 328.8,614.6 336.4,600.2 343.9,644.3 351.4,572.1 358.9,621.3 366.4,611.5 374.0,604.3 381.5,637.1 389.0,569.0 396.5,613.4 404.0,577.8 411.6,584.8 419.1,635.9 426.6,601.8 434.1,590.5 441.6,594.8 449.2,597.6 456.7,584.8 464.2,635.3 471.7,565.0" stroke="#122A60" stroke-width="3"/>
<polyline points="88.2,564.9 95.7,548.0 103.2,579.0 110.8,610.2 118.3,594.7 125.8,589.0 133.3,589.0 140.8,637.1 148.4,604.6 155.9,638.5 163.4,613.0 170.9,604.6 178.4,597.5 186.0,597.5 193.5,589.0 201.0,603.2 208.5,642.0 216.0,604.7 223.6,623.1 231.1,559.3 238.6,599.0 246.1,613.2 253.6,599.0 261.2,618.9 268.7,594.8 276.2,594.8 283.7,562.2 291.2,556.5 298.8,607.5 306.3,658.7 313.8,581.0 321.3,605.1 328.8,606.4 336.4,585.6" stroke="#C40A12" stroke-width="4.9"/>
</g>
<line x1="65.3" y1="458.3" x2="104.3" y2="458.3" stroke="#8C8C8C" stroke-width="3" stroke-linecap="round"/>
<text x="108.8" y="464.6" font-family="'Liberation Serif','Noto Serif CJK SC',serif" font-weight="bold" font-size="16" textLength="47" lengthAdjust="spacingAndGlyphs" fill="#111" stroke="#111" stroke-width="0.35">2021年</text>
<line x1="169" y1="458.3" x2="208" y2="458.3" stroke="#1F78B9" stroke-width="3" stroke-linecap="round"/>
<text x="211.5" y="464.6" font-family="'Liberation Serif','Noto Serif CJK SC',serif" font-weight="bold" font-size="16" textLength="47" lengthAdjust="spacingAndGlyphs" fill="#111" stroke="#111" stroke-width="0.35">2022年</text>
<line x1="271.5" y1="458.3" x2="310.5" y2="458.3" stroke="#122A60" stroke-width="3" stroke-linecap="round"/>
<text x="314.5" y="464.6" font-family="'Liberation Serif','Noto Serif CJK SC',serif" font-weight="bold" font-size="16" textLength="47" lengthAdjust="spacingAndGlyphs" fill="#111" stroke="#111" stroke-width="0.35">2023年</text>
<line x1="374" y1="458.3" x2="413" y2="458.3" stroke="#C40A12" stroke-width="4.8" stroke-linecap="round"/>
<text x="418" y="464.6" font-family="'Liberation Serif','Noto Serif CJK SC',serif" font-weight="bold" font-size="16" textLength="47" lengthAdjust="spacingAndGlyphs" fill="#111" stroke="#111" stroke-width="0.35">2024年</text>
</svg>
</body></html>
